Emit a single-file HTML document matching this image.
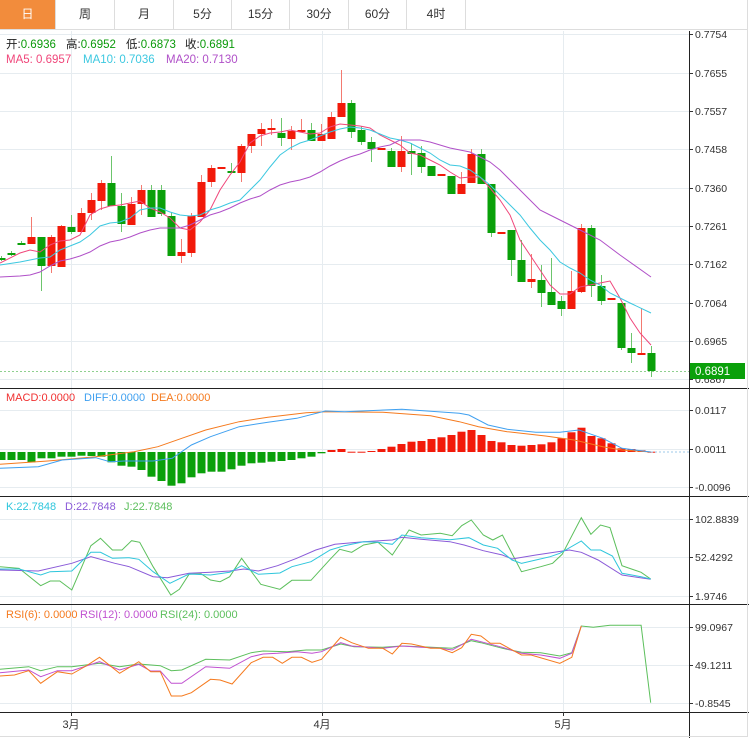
<!DOCTYPE html>
<html><head><meta charset="utf-8"><style>
body{margin:0;background:#fff;width:749px;height:743px;overflow:hidden;font-family:"Liberation Sans","Noto Sans CJK SC",sans-serif}
.tabs{position:absolute;left:0;top:0;height:29px;width:747px;border-bottom:1px solid #ddd;border-right:1px solid #ddd}
.tab{position:absolute;top:0;height:29px;line-height:29px;text-align:center;font-size:12px;color:#333;border-right:1px solid #ddd;box-sizing:border-box}
</style></head><body>
<div class="tabs">
<div class="tab" style="left:0;width:56px;background:#f28c3c;color:#fff">日</div>
<div class="tab" style="left:56px;width:59px">周</div>
<div class="tab" style="left:115px;width:59px">月</div>
<div class="tab" style="left:174px;width:58px">5分</div>
<div class="tab" style="left:232px;width:58px">15分</div>
<div class="tab" style="left:290px;width:59px">30分</div>
<div class="tab" style="left:349px;width:58px">60分</div>
<div class="tab" style="left:407px;width:59px">4时</div>
</div>
<svg id="s" width="749" height="743" style="position:absolute;left:0;top:0" font-family="Liberation Sans, Noto Sans CJK SC, sans-serif"></svg>
<script>
var s=document.getElementById('s'),h='';
function L(x1,y1,x2,y2,c,w,extra){h+='<line x1="'+x1+'" y1="'+y1+'" x2="'+x2+'" y2="'+y2+'" stroke="'+c+'" stroke-width="'+(w||1)+'" '+(extra||'')+'/>';}
function T(x,y,t,c,sz){h+='<text x="'+x+'" y="'+y+'" fill="'+c+'" font-size="'+(sz||11)+'">'+t+'</text>';}
function P(pts,c,w){h+='<polyline fill="none" stroke="'+c+'" stroke-width="'+(w||1)+'" points="'+pts.map(function(p){return p[0]+','+p[1]}).join(' ')+'"/>';}
function Z(pts,y0){return pts.map(function(p){return [(p[0]/2.09).toFixed(1),(y0+p[1]/3).toFixed(1)]});}
var gc='#e6ecf0';
[71,322,563].forEach(function(x){L(x+.5,31,x+.5,712,gc)});
var mt=[[34,'0.7754'],[73,'0.7655'],[111,'0.7557'],[149,'0.7458'],[188,'0.7360'],[226,'0.7261'],[264,'0.7162'],[303,'0.7064'],[341,'0.6965'],[379,'0.6867']];
mt.forEach(function(a){L(0,a[0]+.5,689,a[0]+.5,gc);L(689,a[0]+.5,693,a[0]+.5,'#333');T(695,a[0]+4,a[1],'#333',10.5)});
[[410,'0.0117'],[449,'0.0011'],[487,'-0.0096']].forEach(function(a){L(0,a[0]+.5,689,a[0]+.5,gc);L(689,a[0]+.5,693,a[0]+.5,'#333');T(695,a[0]+4,a[1],'#333',10.5)});
[[519,'102.8839'],[557,'52.4292'],[596,'1.9746']].forEach(function(a){L(0,a[0]+.5,689,a[0]+.5,gc);L(689,a[0]+.5,693,a[0]+.5,'#333');T(695,a[0]+4,a[1],'#333',10.5)});
[[627,'99.0967'],[665,'49.1211'],[703,'-0.8545']].forEach(function(a){L(0,a[0]+.5,689,a[0]+.5,gc);L(689,a[0]+.5,693,a[0]+.5,'#333');T(695,a[0]+4,a[1],'#333',10.5)});
var R='#f21a0a',G='#0aa00a';
var c=[[258,260,256,261,G],[253,255,251,256,G],[243,245,241,245,G],[237,244,217,244,R],[237,266,237,291,G],[237,266,235,273,R],[226,267,225,267,R],[227,232,215,234,G],[213,232,208,232,R],[200,213,193,220,R],[183,201,180,210,R],[183,206,156,206,G],[206,224,193,232,G],[204,225,197,225,R],[190,204,185,215,R],[190,217,185,217,G],[190,214,185,216,G],[216,256,212,256,G],[252,256,239,263,R],[216,253,213,257,R],[182,217,175,217,R],[168,182,165,187,R],[167,169,167,169,R],[171,173,163,173,G],[146,173,144,182,R],[134,146,134,153,R],[129,134,123,146,R],[128,130,119,135,R],[133,138,118,146,G],[131,139,126,150,R],[130,132,119,132,R],[130,141,123,141,G],[134,141,124,141,R],[117,139,112,139,R],[103,117,70,117,R],[103,132,100,138,G],[130,142,126,145,G],[142,149,137,162,G],[148,150,148,150,R],[151,167,148,167,G],[151,167,136,172,R],[151,154,143,175,G],[153,167,146,173,G],[166,176,166,176,G],[174,176,174,176,R],[176,194,176,194,G],[184,194,172,194,R],[154,183,149,183,R],[154,184,149,184,G],[184,233,184,237,G],[232,234,232,234,R],[230,260,230,276,G],[260,282,240,282,G],[279,282,254,288,R],[280,293,265,307,G],[292,305,258,305,G],[301,309,296,316,G],[291,309,271,309,R],[228,292,224,293,R],[228,286,225,297,G],[286,301,275,305,G],[298,300,298,300,R],[303,348,303,350,G],[348,353,333,363,G],[353,355,308,355,R],[353,371,346,377,G]];
c.forEach(function(d,i){var x=1+10*i;var wc=d[4]==R?'#f37a70':'#6cc56c';L(x+.5,d[2],x+.5,d[3],wc);h+='<rect x="'+(x-3.5)+'" y="'+d[0]+'" width="8" height="'+Math.max(2,d[1]-d[0])+'" fill="'+d[4]+'"/>';});
P([[0,263],[20,253],[30,250],[40,252],[50,245],[60,241],[70,240],[80,235],[90,215],[100,209],[110,206],[120,205],[130,203],[140,201],[150,208],[160,212],[170,218],[180,228],[190,230],[200,222],[210,210],[220,190],[230,175],[240,162],[250,143],[260,136],[270,133],[280,132],[290,130],[300,132],[310,134],[320,133],[330,127],[340,124],[350,125],[360,126],[370,128],[380,135],[390,140],[400,145],[410,153],[420,155],[430,160],[440,165],[450,172],[460,178],[470,177],[480,177],[490,188],[500,200],[510,215],[520,240],[530,255],[540,270],[550,285],[560,294],[570,294],[580,287],[590,285],[600,283],[610,281],[620,298],[630,318],[640,333],[651,345]],'#f0467a');
P([[0,265],[20,262],[30,260],[40,258],[50,257],[60,250],[70,246],[80,242],[90,235],[100,226],[110,223],[120,222],[130,218],[140,210],[150,208],[160,208],[170,212],[180,215],[190,216],[200,215],[210,210],[220,207],[230,203],[240,200],[250,190],[260,180],[270,167],[280,155],[290,148],[300,143],[310,140],[320,136],[330,132],[340,129],[350,127],[360,128],[370,130],[380,134],[390,138],[400,140],[410,143],[420,148],[430,153],[440,160],[450,165],[460,166],[470,170],[480,177],[490,185],[500,195],[510,205],[520,215],[530,228],[540,240],[550,250],[560,262],[570,268],[580,273],[590,280],[600,285],[610,293],[620,298],[630,303],[651,313]],'#3cc8e0');
P([[0,277],[20,276],[30,275],[40,272],[50,266],[60,261],[70,259],[80,256],[90,252],[100,246],[110,242],[120,240],[130,237],[140,233],[150,230],[160,228],[170,228],[180,228],[190,225],[200,220],[210,215],[220,212],[230,208],[240,203],[250,199],[260,196],[270,190],[280,185],[290,182],[300,180],[310,177],[320,172],[330,166],[340,161],[350,157],[360,154],[370,150],[380,147],[390,145],[400,140],[410,140],[420,140],[430,142],[440,145],[450,148],[460,150],[470,152],[480,157],[490,162],[500,170],[510,180],[520,190],[530,200],[540,210],[550,215],[560,220],[570,225],[580,230],[600,240],[620,255],[651,277]],'#b050c8');
L(0,371.5,689,371.5,'#8fd08f',1,'stroke-dasharray="2,2"');
h+='<rect x="689" y="363" width="56" height="16" fill="#0aa00a"/>';T(695,375,'0.6891','#fff',11.5);
function LT(y,items,sz){items.forEach(function(it){h+='<text x="'+it[0]+'" y="'+y+'" font-size="'+(sz||11.5)+'">'+it[1]+'</text>';});}
var k='<tspan fill="#222">',g='<tspan fill="#0a9a0a">',e='</tspan>';
LT(48,[[6,k+'开:'+e+g+'0.6936'+e],[66,k+'高:'+e+g+'0.6952'+e],[126,k+'低:'+e+g+'0.6873'+e],[185,k+'收:'+e+g+'0.6891'+e]]);
LT(63,[[6,'<tspan fill="#f0467a">MA5: 0.6957</tspan>'],[83,'<tspan fill="#3cc8e0">MA10: 0.7036</tspan>'],[166,'<tspan fill="#b050c8">MA20: 0.7130</tspan>']]);
var mb=[225,225,225,232,220,220,215,215,212,213,215,232,242,245,255,275,288,302,295,277,265,260,260,253,242,235,233,230,228,225,220,215,205,195,192,200,200,198,192,185,177,170,168,162,157,150,140,135,150,168,172,180,182,180,178,172,160,142,128,153,160,175,190,192,196,200];
var zy=452;
mb.forEach(function(v,i){var x=1+10*i;var y=385+v/3;var col=v>201?G:R;var t=Math.min(y,zy),b=Math.max(y,zy);h+='<rect x="'+(x-3.5)+'" y="'+t.toFixed(1)+'" width="8" height="'+Math.max(1,b-t).toFixed(1)+'" fill="'+col+'"/>';});
L(651,452,689,452,'#9cc8e8',1,'stroke-dasharray="2,2"');
P(Z([[0,238],[100,228],[200,215],[280,200],[330,185],[380,160],[430,135],[500,110],[560,97],[640,83],[680,80],[800,82],[900,92],[960,110],[1000,125],[1060,140],[1140,153],[1200,165],[1260,185],[1300,195],[1360,201]],385),'#f57a1e');
P(Z([[0,250],[80,245],[130,225],[200,218],[230,230],[260,228],[320,228],[360,220],[400,180],[440,155],[500,125],[560,112],[620,100],[680,78],[720,80],[840,73],[960,85],[980,90],[1020,120],[1060,133],[1120,142],[1170,142],[1210,135],[1230,145],[1260,160],[1300,190],[1360,201]],385),'#3fa0f0');
LT(401,[[6,'<tspan fill="#f03030">MACD:0.0000</tspan>'],[84,'<tspan fill="#3fa0f0">DIFF:0.0000</tspan>'],[151,'<tspan fill="#f57a1e">DEA:0.0000</tspan>']],11);
P(Z([[0,215],[40,220],[85,272],[105,258],[125,258],[150,285],[190,152],[210,130],[235,165],[255,165],[275,137],[292,142],[320,215],[357,300],[375,283],[395,238],[420,236],[440,255],[460,260],[480,245],[505,190],[545,268],[585,283],[610,256],[650,256],[690,193],[710,163],[735,172],[760,150],[790,142],[820,180],[855,105],[880,120],[920,115],[945,122],[965,92],[985,75],[1010,120],[1030,135],[1050,120],[1090,230],[1130,215],[1155,205],[1175,178],[1215,68],[1235,118],[1255,90],[1275,98],[1300,212],[1340,232],[1360,252]],495),'#5cbf5c');
P(Z([[0,225],[80,228],[150,205],[190,185],[240,205],[270,215],[320,245],[350,248],[395,235],[440,232],[480,228],[510,222],[540,228],[580,212],[620,190],[660,165],[700,148],[760,140],[820,135],[840,127],[880,133],[940,140],[970,150],[1010,167],[1050,180],[1070,192],[1120,180],[1190,165],[1215,172],[1250,195],[1300,240],[1360,253]],495),'#8a5ad8');
P(Z([[0,222],[40,222],[85,240],[105,230],[150,228],[190,172],[210,172],[235,190],[270,188],[290,193],[320,230],[355,265],[395,237],[440,240],[480,232],[505,212],[540,238],[585,234],[610,215],[650,200],[690,165],[720,152],[760,140],[790,142],[820,148],[840,120],[880,128],[940,134],[980,128],[1010,150],[1040,160],[1070,195],[1090,205],[1120,195],[1150,185],[1170,175],[1215,138],[1235,165],[1255,165],[1280,183],[1300,235],[1340,245],[1360,252]],495),'#2ec6dc');
LT(510,[[6,'<tspan fill="#2ec6dc">K:22.7848</tspan>'],[65,'<tspan fill="#8a5ad8">D:22.7848</tspan>'],[124,'<tspan fill="#5cbf5c">J:22.7848</tspan>']],11);
P(Z([[0,208],[60,200],[85,212],[120,200],[150,200],[208,190],[250,200],[290,192],[335,197],[358,212],[380,210],[430,178],[480,180],[525,158],[550,153],[600,155],[640,150],[672,150],[712,132],[740,140],[800,142],[840,138],[880,140],[945,145],[985,122],[1005,128],[1050,145],[1090,157],[1130,158],[1170,168],[1195,158],[1215,78],[1240,82],[1275,76],[1340,76],[1360,308]],600),'#5cbf5c');
P(Z([[0,218],[60,210],[85,230],[120,212],[150,212],[208,185],[250,210],[290,193],[315,213],[335,213],[358,250],[380,250],[430,200],[480,205],[525,170],[550,162],[580,160],[620,155],[652,160],[672,155],[712,128],[735,138],[800,145],[840,138],[880,142],[920,145],[945,150],[985,118],[1005,125],[1050,142],[1090,160],[1130,165],[1170,175],[1195,160],[1215,78]],600),'#c050d0');
P(Z([[0,228],[30,225],[60,212],[85,250],[120,215],[150,222],[180,198],[208,172],[250,220],[290,185],[315,215],[335,215],[358,288],[380,288],[400,278],[440,238],[460,240],[485,252],[525,188],[550,172],[570,172],[590,190],[610,172],[630,172],[652,187],[672,178],[712,112],[735,128],[770,145],[800,145],[820,162],[840,130],[860,132],[900,145],[920,145],[945,158],[965,143],[985,103],[1005,108],[1025,130],[1045,130],[1090,165],[1110,165],[1170,190],[1195,172],[1215,78]],600),'#f57a1e');
LT(618,[[6,'<tspan fill="#f57a1e">RSI(6): 0.0000</tspan>'],[80,'<tspan fill="#c050d0">RSI(12): 0.0000</tspan>'],[160,'<tspan fill="#5cbf5c">RSI(24): 0.0000</tspan>']],11);
[388,496,604,712].forEach(function(y){L(0,y+.5,749,y+.5,'#222')});
L(689.5,31,689.5,738,'#222');
L(0,736.5,747,736.5,'#ddd');L(747.5,29,747.5,737,'#ddd');
[[71,'3月'],[322,'4月'],[563,'5月']].forEach(function(a){L(a[0]+.5,712,a[0]+.5,716,'#333');h+='<text x="'+a[0]+'" y="728" text-anchor="middle" font-size="11" fill="#333">'+a[1]+'</text>';});
s.innerHTML=h;
</script>
</body></html>
